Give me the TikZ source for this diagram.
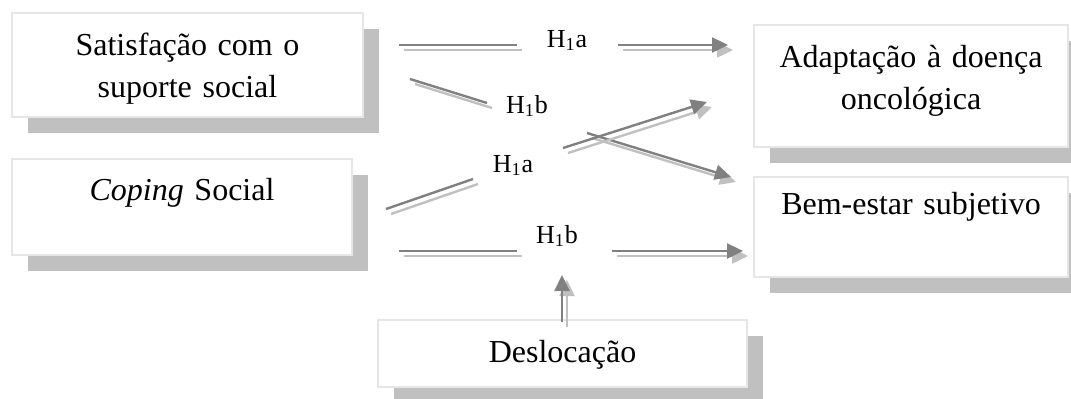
\documentclass[tikz,border=0pt]{standalone}
\usepackage{fontspec}
\setmainfont{Liberation Serif}
\usetikzlibrary{arrows.meta}
\definecolor{shadowgray}{HTML}{C0C0C0}
\definecolor{darkline}{HTML}{808080}
\definecolor{lightline}{HTML}{C0C0C0}
\definecolor{boxedge}{HTML}{E6E6E6}
\newcommand\dblseg[3][]{%
  \draw[lightarrow,#1] (#2) -- (#3);
  \draw[darkarrow,#1] (#2) -- (#3);}
\begin{document}
\begin{tikzpicture}[x=0.5pt,y=-0.5pt,
  boxshadow/.style={fill=shadowgray},
  boxframe/.style={draw=boxedge, line width=0.6pt, fill=white, anchor=north west, inner sep=0pt, outer sep=0pt},
  boxtext/.style={font=\fontsize{16}{21}\selectfont, align=center, text width=170pt, anchor=base, inner sep=0pt},
  hlabel/.style={font=\fontsize{13}{15}\selectfont, anchor=base, inner sep=0pt},
  darkarrow/.style={draw=darkline, line width=1.2pt},
  lightarrow/.style={draw=lightline, line width=1.2pt, transform canvas={xshift=2.5pt,yshift=-2.5pt}},
  endtip/.style={-{Triangle[length=8pt,width=7.5pt]}},
]
\useasboundingbox (0,0) rectangle (1071,398);
% shadows
\fill[boxshadow] (28,29) rectangle (379,133);
\fill[boxshadow] (28,175) rectangle (368,271);
\fill[boxshadow] (770,41) rectangle (1084,163);
\fill[boxshadow] (770,193) rectangle (1084,293);
\fill[boxshadow] (394,336) rectangle (763,403);
% boxes
\node[boxframe, minimum width=175.5pt, minimum height=52pt] (A) at (12,13) {};
\node[boxframe, minimum width=170pt, minimum height=48pt] (B) at (12,159) {};
\node[boxframe, minimum width=157pt, minimum height=61pt] (C) at (754,25) {};
\node[boxframe, minimum width=157pt, minimum height=50pt] (D) at (754,177) {};
\node[boxframe, minimum width=184.5pt, minimum height=33.5pt] (E) at (378,320) {};
% texts
\node[boxtext] (At) at (187.5,55) {Satisfação com o\\suporte social};
\node[boxtext] (Bt) at (182,200) {\textit{Coping} Social};
\node[boxtext] (Ct) at (911,67) {Adaptação à doença\\oncológica};
\node[boxtext] (Dt) at (911,214) {Bem-estar subjetivo};
\node[boxtext] (Et) at (562.5,362) {Deslocação};
% labels
\node[hlabel] (L1) at (567,47) {H\textsubscript{1}a};
\node[hlabel] (L2) at (527,113) {H\textsubscript{1}b};
\node[hlabel] (L3) at (513,172) {H\textsubscript{1}a};
\node[hlabel] (L4) at (557,243) {H\textsubscript{1}b};
% connector end points
\coordinate (p1a) at (399,45);  \coordinate (p1b) at (517,45);
\coordinate (p1c) at (618,45);  \coordinate (p1d) at (728,45);
\coordinate (p2a) at (410,79);  \coordinate (p2b) at (487,103);
\coordinate (p2c) at (587,133); \coordinate (p2d) at (731,177);
\coordinate (p3a) at (386,209); \coordinate (p3b) at (473,179);
\coordinate (p3c) at (563,148); \coordinate (p3d) at (707,102);
\coordinate (p4a) at (399,251); \coordinate (p4b) at (517,251);
\coordinate (p4c) at (612,251); \coordinate (p4d) at (743,251);
\coordinate (p5a) at (562,322); \coordinate (p5b) at (562,275);
% connectors
\dblseg{p1a}{p1b}
\dblseg[endtip]{p1c}{p1d}
\dblseg{p2a}{p2b}
\dblseg[endtip]{p2c}{p2d}
\dblseg{p3a}{p3b}
\dblseg[endtip]{p3c}{p3d}
\dblseg{p4a}{p4b}
\dblseg[endtip]{p4c}{p4d}
\dblseg[endtip]{p5a}{p5b}
\end{tikzpicture}
\end{document}
